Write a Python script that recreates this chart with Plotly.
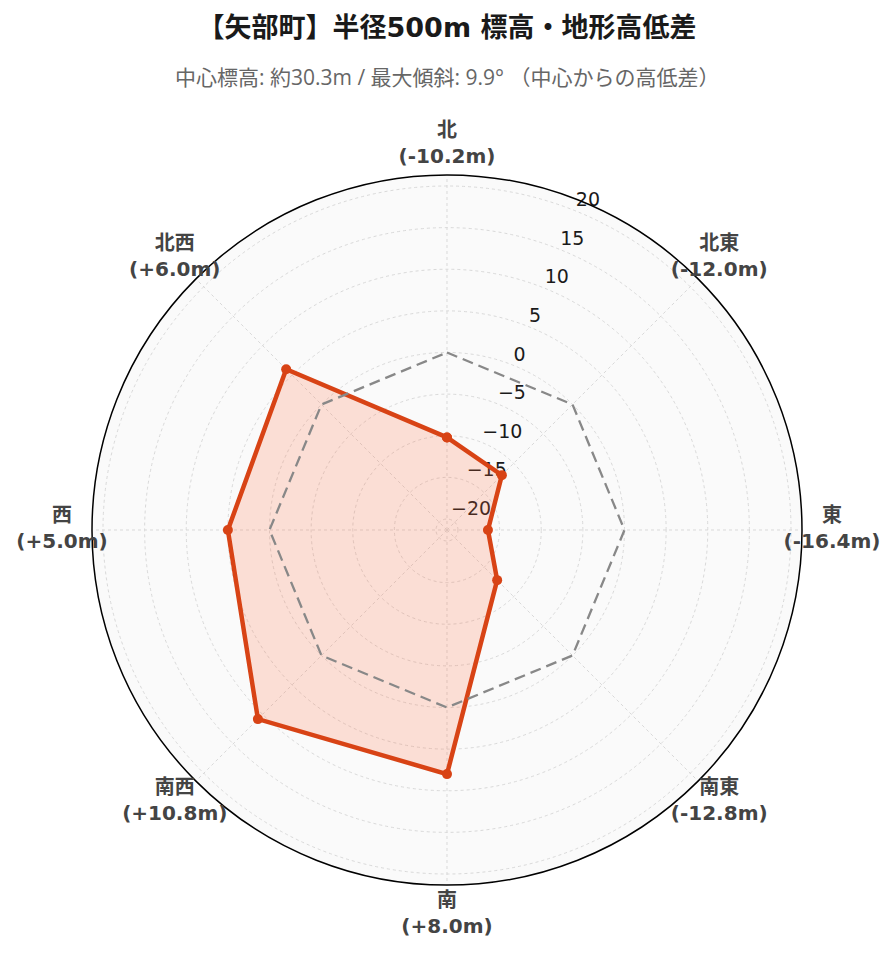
import plotly.graph_objects as go

# --- data ---
directions = ["北", "北東", "東", "南東", "南", "南西", "西", "北西"]
angles = [0, 45, 90, 135, 180, 225, 270, 315]
diffs = [-10.2, -12.0, -16.4, -12.8, 8.0, 10.8, 5.0, 6.0]
reference = [0, 0, 0, 0, 0, 0, 0, 0]
radial_ticks = [-20, -15, -10, -5, 0, 5, 10, 15, 20]
radial_tick_labels = ["−20", "−15", "−10", "−5", "0", "5", "10", "15", "20"]
radial_label_angle = 22.0  # degrees clockwise from north

title_text = "【矢部町】半径500m 標高・地形高低差"
subtitle_text = "中心標高: 約30.3m / 最大傾斜: 9.9° （中心からの高低差）"

max_abs = max(abs(v) for v in diffs)
rmax = max_abs * 1.3

label_text = [f"<b>{d}</b><br><b>({v:+.1f}m)</b>" for d, v in zip(directions, diffs)]

# geometry (pixels): plot area square of side 2*R_OUT, main polar radius R_MAIN
R_OUT = 415
R_MAIN = 355
LABEL_PAD = 30
inner = (R_OUT - R_MAIN) / (2 * R_OUT)
label_r = (R_MAIN + LABEL_PAD) / R_OUT

FONT = "DejaVu Sans, Noto Sans CJK JP, sans-serif"

fig = go.Figure()

# radial tick labels (horizontal, just above-right of each tick), drawn beneath the data
fig.add_trace(go.Scatterpolar(
    r=radial_ticks,
    theta=[radial_label_angle] * len(radial_ticks),
    mode="text",
    text=radial_tick_labels,
    textposition="top right",
    textfont=dict(size=19, color="#1a1a1a", family=FONT),
    cliponaxis=False,
    showlegend=False,
    hoverinfo="skip",
    subplot="polar",
))

fig.add_trace(go.Scatterpolar(
    r=diffs + diffs[:1],
    theta=angles + angles[:1],
    mode="lines+markers",
    line=dict(color="#D84315", width=4.5),
    marker=dict(color="#D84315", size=10),
    fill="toself",
    fillcolor="rgba(255,112,67,0.2)",
    showlegend=False,
    subplot="polar",
))

fig.add_trace(go.Scatterpolar(
    r=reference + reference[:1],
    theta=angles + angles[:1],
    mode="lines",
    line=dict(color="#888888", width=2.3, dash="11px,6px"),
    showlegend=False,
    subplot="polar",
))

# direction labels, centred just outside the circle (on an invisible outer polar)
fig.add_trace(go.Scatterpolar(
    r=[label_r] * len(angles),
    theta=angles,
    mode="text",
    text=label_text,
    textposition="middle center",
    textfont=dict(size=20, color="#444444", family=FONT),
    cliponaxis=False,
    showlegend=False,
    hoverinfo="skip",
    subplot="polar2",
))

fig.update_layout(
    width=896,
    height=962,
    paper_bgcolor="white",
    margin=dict(l=24, r=896 - 24 - 2 * R_OUT, t=107, b=962 - 107 - 2 * R_OUT),
    font=dict(family=FONT, color="#222"),
    title=dict(
        text=f"<b>{title_text}</b>",
        x=0.5, xref="paper", xanchor="center",
        y=1 - 20 / 962, yanchor="middle", yref="container",
        font=dict(size=27, color="#1a1a1a", family=FONT),
    ),
    annotations=[dict(
        text=subtitle_text,
        x=0.5, xref="paper", xanchor="center",
        y=1 + (107 - 69) / (2 * R_OUT), yref="paper", yanchor="middle",
        showarrow=False,
        font=dict(size=21, color="#666666", family="Open Sans, Noto Sans CJK JP, sans-serif"),
    )],
    polar=dict(
        domain=dict(x=[inner, 1 - inner], y=[inner, 1 - inner]),
        bgcolor="#fafafa",
        angularaxis=dict(
            direction="clockwise",
            rotation=90,
            tickmode="array",
            tickvals=angles,
            showticklabels=False,
            showline=True,
            linecolor="black",
            linewidth=1.5,
            showgrid=True,
            gridcolor="#d9d9d9",
            griddash="dot",
            ticks="",
        ),
        radialaxis=dict(
            range=[-rmax, rmax],
            tickmode="array",
            tickvals=radial_ticks,
            showticklabels=False,
            showline=False,
            showgrid=True,
            gridcolor="#d9d9d9",
            griddash="dot",
            ticks="",
        ),
    ),
    polar2=dict(
        domain=dict(x=[0, 1], y=[0, 1]),
        bgcolor="rgba(0,0,0,0)",
        angularaxis=dict(direction="clockwise", rotation=90, visible=False),
        radialaxis=dict(range=[0, 1], visible=False),
    ),
)

fig.write_html("out.html")
